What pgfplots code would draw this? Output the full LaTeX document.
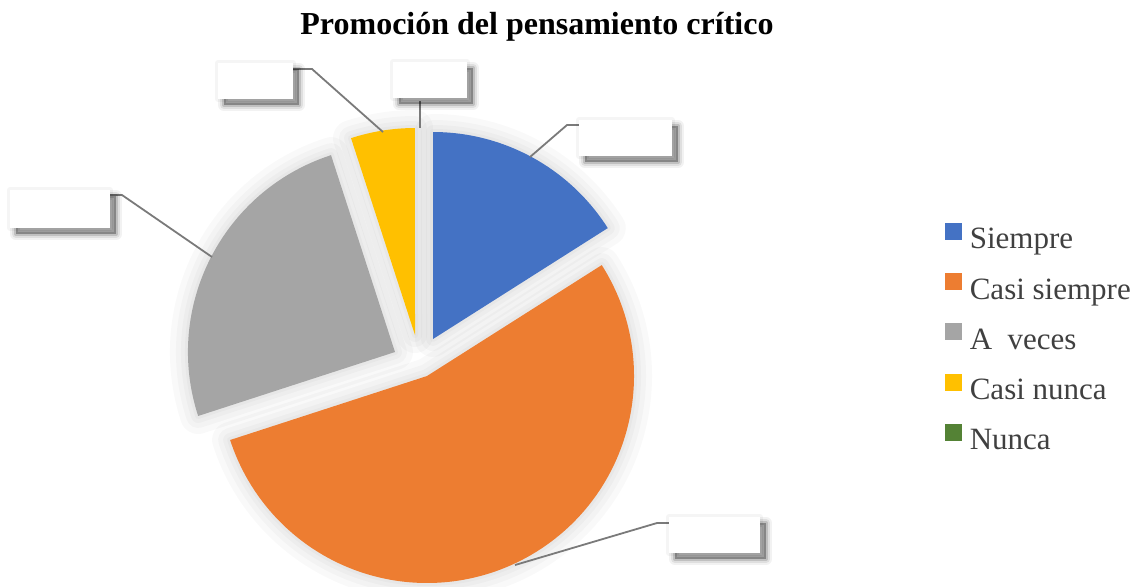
\documentclass[border=0pt]{standalone}
\usepackage{fontspec}
\setmainfont{Liberation Serif}
\usepackage{pgfplots}
\pgfplotsset{compat=1.18}
\definecolor{cSiempre}{HTML}{4472C4}
\definecolor{cCasiSiempre}{HTML}{ED7D31}
\definecolor{cAveces}{HTML}{A5A5A5}
\definecolor{cCasiNunca}{HTML}{FFC000}
\definecolor{cNunca}{HTML}{548235}
\definecolor{legtext}{HTML}{404040}
\definecolor{leader}{HTML}{7A7A7A}

% shares in percent
\def\vA{16}\def\vB{54}\def\vC{25}\def\vD{5}\def\vE{0}
\pgfmathsetmacro\tot{\vA+\vB+\vC+\vD+\vE}
\pgfmathsetmacro\aA{0}
\pgfmathsetmacro\aB{\aA+\vA/\tot*360}
\pgfmathsetmacro\aC{\aB+\vB/\tot*360}
\pgfmathsetmacro\aD{\aC+\vC/\tot*360}
\pgfmathsetmacro\aE{\aD+\vD/\tot*360}
\def\R{103.5pt}% 207 px

% slice: options, from, to (clockwise from top), tip x, tip y (px)
\newcommand\slice[5][]{%
  \path[#1] (axis cs:#4,#5) -- ++({90-#2}:\R)
    arc[start angle={90-#2}, end angle={90-#3}, radius=\R] -- cycle;}
\newcommand\halo[4]{%
  \slice[hl=18pt]{#1}{#2}{#3}{#4}\slice[hl=12pt]{#1}{#2}{#3}{#4}
  \slice[hl=7pt]{#1}{#2}{#3}{#4}\slice[hl=3pt]{#1}{#2}{#3}{#4}}
% empty data label with a soft drop shadow
\newcommand\lblbox[4]{%
  \begin{scope}[xshift=3pt, yshift=-3pt]
    \fill[black, opacity=.3] (axis cs:#1,#2) rectangle (axis cs:#3,#4);
    \draw[sh=2pt, opacity=.14] (axis cs:#1,#2) rectangle (axis cs:#3,#4);
    \draw[sh=4pt, opacity=.08] (axis cs:#1,#2) rectangle (axis cs:#3,#4);
    \draw[sh=6pt, opacity=.05] (axis cs:#1,#2) rectangle (axis cs:#3,#4);
  \end{scope}
  \draw[sh=3pt, opacity=.04] (axis cs:#1,#2) rectangle (axis cs:#3,#4);
  \fill[white] (axis cs:#1,#2) rectangle (axis cs:#3,#4);}
\tikzset{
  hl/.style={draw=black, draw opacity=0.022, line width=#1, line join=round},
  sh/.style={draw=black, line width=#1, line join=round},
  ldr/.style={draw=leader, line width=0.9pt},
}

\begin{document}
\begin{tikzpicture}
\begin{axis}[
  width=568pt, height=293pt, scale only axis,
  xmin=0, xmax=1136, ymin=0, ymax=586, y dir=reverse,
  hide axis, clip=false,
  legend image code/.code={\fill[#1] (0pt,1.2pt) rectangle (8pt,9.2pt);},
  legend cell align=left,
  legend style={at={(axis cs:945,223)}, anchor=north west, draw=none, fill=none,
    inner sep=0pt, outer sep=0pt, row sep=8.2pt, column sep=4pt,
    font=\fontsize{15.5}{18}\selectfont, text=legtext,
    nodes={inner sep=0pt, text height=11pt, text depth=4pt}},
]
\coordinate (BL) at (axis cs:0,586);
\coordinate (TR) at (axis cs:1136,0);

% soft halo first, then the slices
\halo{\aA}{\aB}{433}{339}
\halo{\aB}{\aC}{427}{376}
\halo{\aC}{\aD}{395}{352}
\halo{\aD}{\aE}{415}{335}
\slice[fill=cSiempre]{\aA}{\aB}{433}{339}
\slice[fill=cCasiSiempre]{\aB}{\aC}{427}{376}
\slice[fill=cAveces]{\aC}{\aD}{395}{352}
\slice[fill=cCasiNunca]{\aD}{\aE}{415}{335}

% leader lines
\draw[ldr] (axis cs:579,125) -- (axis cs:567,125) -- (axis cs:530,157);
\draw[ldr] (axis cs:669,523) -- (axis cs:657,523) -- (axis cs:515,565);
\draw[ldr] (axis cs:110,195) -- (axis cs:122,195) -- (axis cs:212,257);
\draw[ldr] (axis cs:293,69) -- (axis cs:312,69) -- (axis cs:383,132);
\draw[ldr] (axis cs:420,101) -- (axis cs:420,128);

% empty data labels
\lblbox{579}{120}{672}{156}
\lblbox{669}{517}{760}{553}
\lblbox{10}{190}{110}{228}
\lblbox{218}{63}{293}{99}
\lblbox{393}{62}{467}{98}

\node[anchor=base, font=\bfseries\fontsize{16}{19}\selectfont]
  at (axis cs:537,34) {Promoción del pensamiento crítico};

\addlegendimage{cSiempre}\addlegendentry{Siempre}
\addlegendimage{cCasiSiempre}\addlegendentry{Casi siempre}
\addlegendimage{cAveces}\addlegendentry{A\ \ veces}
\addlegendimage{cCasiNunca}\addlegendentry{Casi nunca}
\addlegendimage{cNunca}\addlegendentry{Nunca}
\end{axis}
\pgfresetboundingbox
\path[use as bounding box] (BL) rectangle (TR);
\end{tikzpicture}
\end{document}
